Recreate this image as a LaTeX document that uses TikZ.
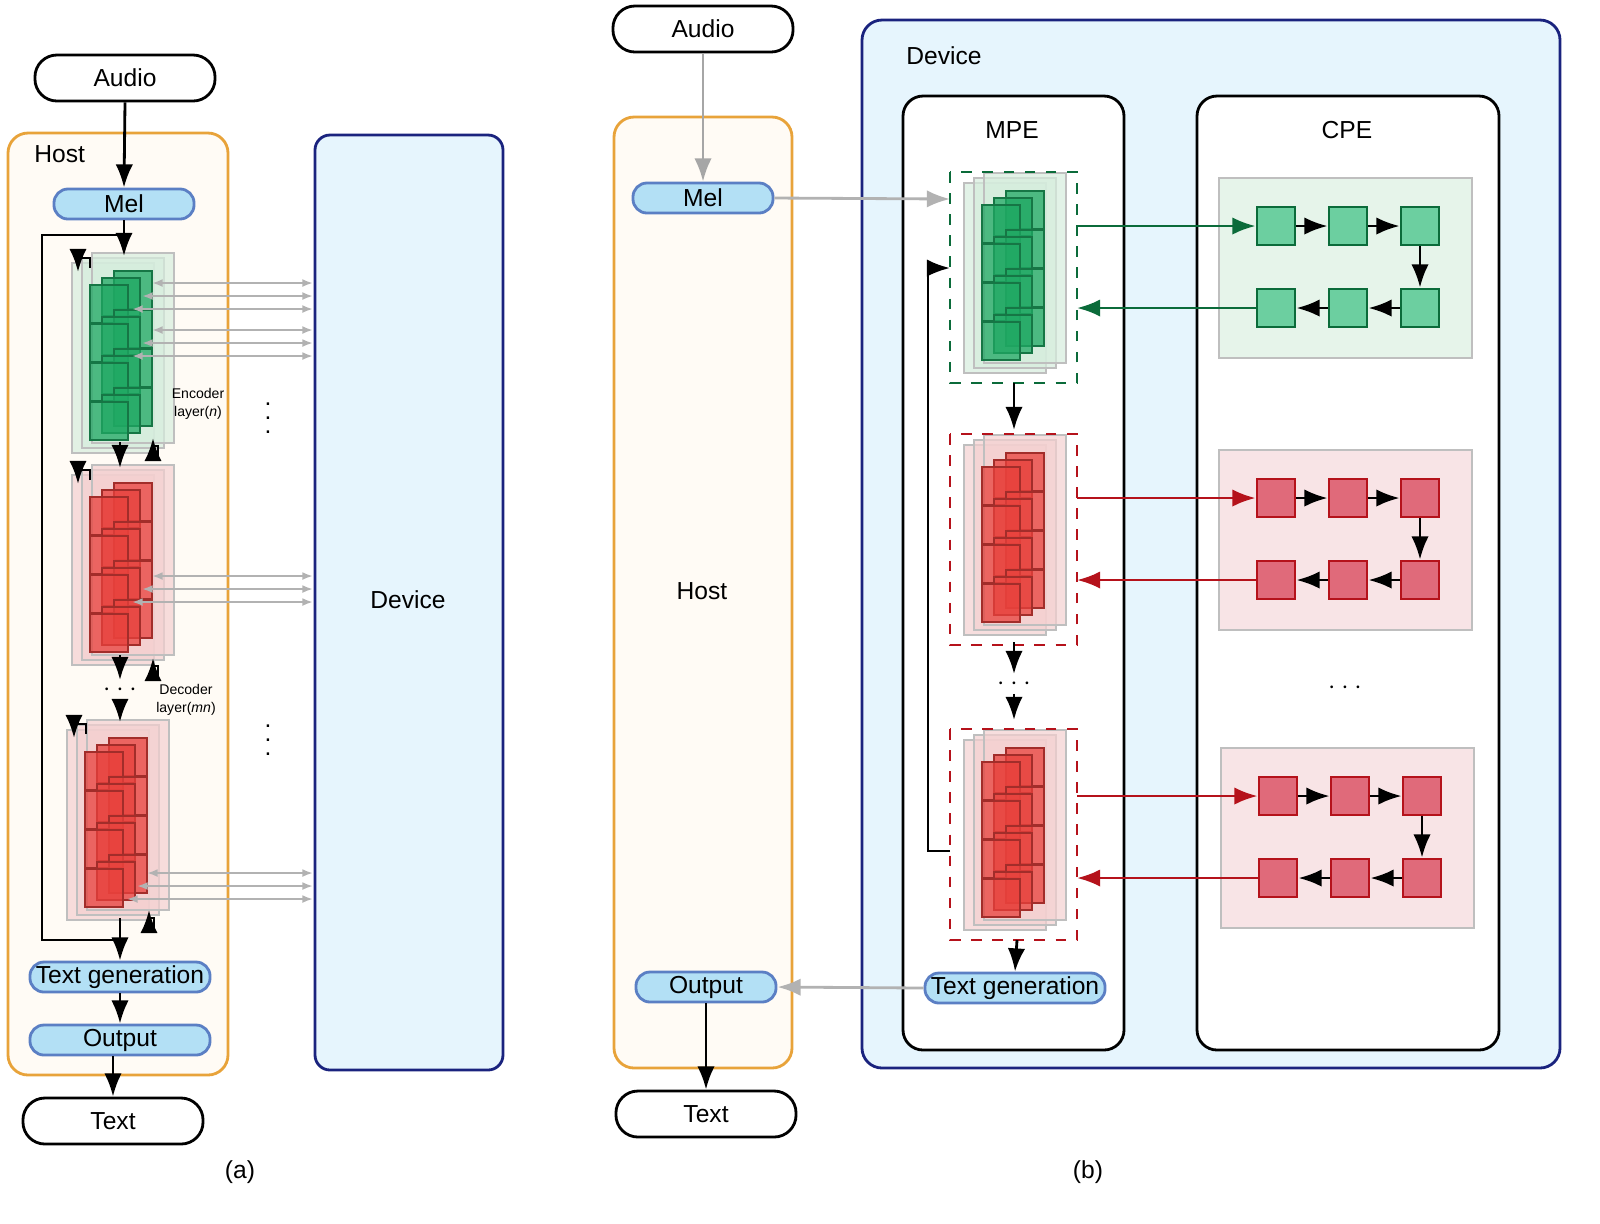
\documentclass[tikz,border=0pt]{standalone}
\usepackage{fontspec}
\setmainfont{Liberation Sans}
\usetikzlibrary{arrows.meta,positioning}
\definecolor{hostfill}{HTML}{FFFBF5}
\definecolor{hostdraw}{HTML}{E8A33A}
\definecolor{devfill}{HTML}{E6F5FD}
\definecolor{devdraw}{HTML}{1A237E}
\definecolor{pillfill}{HTML}{B3E0F5}
\definecolor{pilldraw}{HTML}{5B7FC4}
\definecolor{encfill}{HTML}{1FA863}
\definecolor{encdraw}{HTML}{0B6B3A}
\definecolor{encbg}{HTML}{D6EDDD}
\definecolor{decfill}{HTML}{E8413C}
\definecolor{decdraw}{HTML}{B5121B}
\definecolor{decbg}{HTML}{F4D0D0}
\definecolor{cpegreen}{HTML}{6CCFA0}
\definecolor{cpered}{HTML}{E06A7A}
\definecolor{cpegbg}{HTML}{E6F4EA}
\definecolor{cperbg}{HTML}{F8E4E6}
\tikzset{>=Latex}
\tikzset{pill/.style = {draw=pilldraw,fill=pillfill,rounded corners=0.14cm,thick,minimum height=0.3cm,inner sep=1pt}}
\tikzset{term/.style = {draw,thick,rounded corners=0.22cm,minimum width=1.8cm,minimum height=0.46cm}}
\tikzset{flow/.style = {->,thick,black}}
\tikzset{link/.style = {<->,gray!60,thick,>={Latex[length=3pt]}}}
\tikzset{cell/.style = {draw,thick,minimum size=0.38cm,inner sep=0pt}}
% one layer: three sheets and four rows of squares
\newcommand{\layerstack}[4]{%
  \begin{scope}[shift={(#1,#2)}]
    \foreach \dx/\dy in {-48/-92,-38/-97,-28/-102}
      \draw[gray!50,thick,fill=#4,fill opacity=.7] (\dx,\dy) rectangle ++(82,190);
    \foreach \r in {0,1,2,3}
      \foreach \sx/\sy in {-6/-10,-18/-3,-30/4}
        \draw[#3!70!black,thick,fill=#3,fill opacity=.75] (\sx,-74+\r*39+\sy) rectangle ++(38,38);
  \end{scope}}
\begin{document}
\begin{tikzpicture}[x=0.01cm,y=-0.01cm,font=\fontsize{7}{8}\selectfont]
\useasboundingbox (0,0) rectangle (1600,1223);

% ---------- (a) ----------
\draw[hostdraw,thick,fill=hostfill,rounded corners=0.2cm] (8,133) rectangle (228,1075);
\draw[devdraw,thick,fill=devfill,rounded corners=0.15cm] (315,135) rectangle (503,1070);
\node[anchor=west] (hostA) at (22,154) {Host};
\node (devA) at (408,600) {Device};
\node[term] (audioA) at (125,78) {Audio};
\node[pill,minimum width=1.4cm] (melA) at (124,204) {Mel};

\layerstack{120}{355}{encfill}{encbg}
\layerstack{120}{567}{decfill}{decbg}
\layerstack{115}{822}{decfill}{decbg}
\node[pill,minimum width=1.8cm] (genA) at (120,977) {Text generation};
\node[pill,minimum width=1.8cm] (outA) at (120,1040) {Output};
\node[term] (textA) at (113,1121) {Text};

\node[font=\fontsize{4}{5}\selectfont,align=center] (encA) at (198,404) {Encoder\\layer(\textit{n})};
\node[font=\fontsize{4}{5}\selectfont,align=center] (decA) at (186,700) {Decoder\\layer(\textit{mn})};
\node[inner sep=0pt] (vdots1) at (268,408) {$\vdots$};
\node[inner sep=0pt] (vdots2) at (268,730) {$\vdots$};
\node[inner sep=1pt] (hdotsA) at (120,690) {$\cdots$};

% links to device
\foreach \y/\x in {283/152,296/142,309/132,330/152,343/142,356/132,576/152,589/142,602/132,873/147,886/137,899/127}
  \draw[link] (\x,\y) -- (313,\y);

% flow
\draw[flow] (audioA.south) -- (melA.north);
\draw[flow] (melA.south) -- (124,256);
\draw[thick] (124,235) -- (42,235) -- (42,940) -- (115,940);
\draw[flow] (120,442) -- (120,468);
\draw[flow] (120,655) -- (hdotsA.north);
\draw[flow] (hdotsA.south) -- (120,722);
\draw[flow] (120,918) -- (genA.north);
\draw[flow] (genA.south) -- (outA.north);
\draw[flow] (outA.south) ++(-7,0) -- (textA.north);
\foreach \ty/\by/\tx/\bx in {258/460/78/158,470/680/78/158,724/932/74/154}{
  \draw[flow] (\tx+12,\ty+10) -- (\tx+12,\ty) -- (\tx,\ty) -- (\tx,\ty+14);
  \draw[flow] (\bx-8,\by) -- (\bx,\by) -- (\bx,\by-14) -- (\bx-5,\by-14) -- (\bx-5,\by-22);
}

% ---------- (b) ----------
\draw[hostdraw,thick,fill=hostfill,rounded corners=0.2cm] (614,117) rectangle (792,1068);
\draw[devdraw,thick,fill=devfill,rounded corners=0.2cm] (862,20) rectangle (1560,1068);
\draw[thick,fill=white,rounded corners=0.2cm] (903,96) rectangle (1124,1050);
\draw[thick,fill=white,rounded corners=0.2cm] (1197,96) rectangle (1499,1050);
\node (hostB) at (702,591) {Host};
\node (devB) at (944,56) {Device};
\node (mpe) at (1012,130) {MPE};
\node (cpe) at (1347,130) {CPE};
\node[term] (audioB) at (703,29) {Audio};
\node[pill,minimum width=1.4cm] (melB) at (703,198) {Mel};
\node[pill,minimum width=1.4cm] (outB) at (706,987) {Output};
\node[term] (textB) at (706,1114) {Text};
\node[pill,minimum width=1.8cm] (genB) at (1015,988) {Text generation};

\foreach \cy/\fc/\bg/\dc in {275/encfill/encbg/encdraw,537/decfill/decbg/decdraw,832/decfill/decbg/decdraw}{
  \layerstack{1012}{\cy}{\fc}{\bg}
  \draw[\dc,thick,dashed] (950,\cy-103) rectangle (1077,\cy+108);
}
\node[inner sep=1pt] (hdotsB) at (1014,684) {$\cdots$};
\node (hdotsC) at (1345,688) {$\cdots$};

% CPE pipelines
\foreach \i/\gy/\gx/\fc/\dc/\bg in {1/178/1219/cpegreen/encdraw/cpegbg,2/450/1219/cpered/decdraw/cperbg,3/748/1221/cpered/decdraw/cperbg}{
  \draw[gray!50,thick,fill=\bg] (\gx,\gy) rectangle ++(253,180);
  \foreach \k/\kx in {1/57,2/129,3/201}{
    \node[cell,fill=\fc,draw=\dc] (t\i\k) at (\gx+\kx,\gy+48) {};
    \node[cell,fill=\fc,draw=\dc] (b\i\k) at (\gx+\kx,\gy+130) {};
  }
  \draw[flow] (t\i1) -- (t\i2);
  \draw[flow] (t\i2) -- (t\i3);
  \draw[flow] (t\i3) -- (b\i3);
  \draw[flow] (b\i3) -- (b\i2);
  \draw[flow] (b\i2) -- (b\i1);
  \draw[->,thick,\dc] (1077,\gy+48) -- (t\i1.west);
  \draw[->,thick,\dc] (b\i1.west) -- (1077,\gy+130);
}

\draw[->,gray!70,thick] (audioB.south) -- (melB.north);
\draw[->,gray!60,thick] (melB.east) -- (950,199);
\draw[flow] (1014,383) -- (1014,430);
\draw[flow] (1014,642) -- (hdotsB.north);
\draw[flow] (hdotsB.south) -- (1014,720);
\draw[flow] (1017,940) -- (genB.north);
\draw[flow] (950,851) -- (928,851) -- (928,268) -- (950,268);
\draw[->,gray!60,thick] (genB.west) -- (outB.east);
\draw[flow] (outB.south) -- (textB.north);

\node (capA) at (240,1172) {(a)};
\node (capB) at (1088,1172) {(b)};
\end{tikzpicture}
\end{document}
